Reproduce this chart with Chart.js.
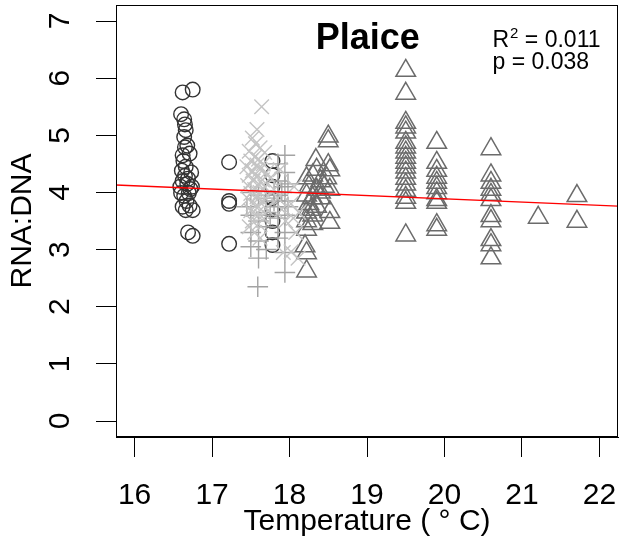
<!DOCTYPE html>
<html lang="en">
<head>
<meta charset="UTF-8">
<title>Plaice RNA:DNA vs temperature</title>
<script src="https://cdn.jsdelivr.net/npm/chart.js"></script>
<style>
    body { margin: 0; background: #fff; }
    #chart-container { width: 620px; height: 545px; }
</style>
</head>
<body>
<div id="chart-container">
    <canvas id="myChart"></canvas>
</div>
<script>
// circles (open, dark)
const circleTemp = [16.62, 16.75, 16.60, 16.64, 16.65, 16.66, 16.64, 16.65, 16.68, 16.71,
    16.62, 16.66, 16.61, 16.65, 16.62, 16.68, 16.72, 16.59, 16.74, 16.60,
    16.70, 16.64, 16.67, 16.62, 16.71, 16.75, 16.66, 16.69, 16.63, 16.73,
    16.69, 16.75, 17.22, 17.22, 17.22, 17.22,
    17.78, 17.78, 17.78, 17.78, 17.78, 17.78, 17.78, 17.78];
const circleRna = [5.75, 5.80, 5.37, 5.28, 5.19, 5.09, 4.97, 4.79, 4.82, 4.68,
    4.65, 4.45, 4.38, 4.29, 4.20, 4.15, 4.06, 4.10, 4.10, 3.99,
    3.99, 3.94, 3.85, 3.75, 3.77, 3.69, 3.69, 4.24, 4.55, 4.35,
    3.30, 3.24, 4.53, 3.85, 3.80, 3.10,
    4.55, 4.30, 4.10, 3.90, 3.70, 3.50, 3.30, 3.08];

// diagonal crosses (light grey)
const crossTemp = [17.64, 17.58, 17.52, 17.56, 17.62, 17.48, 17.68, 17.55, 17.60, 17.50,
    17.66, 17.58, 17.45, 17.62, 17.52, 17.70, 17.48, 17.57, 17.65, 17.53,
    17.60, 17.46, 17.68, 17.55, 17.62, 17.50, 17.72, 17.58, 17.47, 17.65,
    17.53, 17.60, 17.70, 17.50, 17.57, 17.64, 17.52, 17.60, 17.48, 17.55,
    17.62, 17.75, 17.80, 17.85, 17.90, 17.88, 17.95, 18.02, 18.05, 18.08,
    18.02, 18.11, 18.12, 18.06, 17.92];
const crossRna = [5.50, 5.10, 4.95, 4.85, 4.78, 4.72, 4.70, 4.62, 4.58, 4.55,
    4.50, 4.48, 4.45, 4.40, 4.38, 4.35, 4.30, 4.28, 4.22, 4.20,
    4.15, 4.12, 4.10, 4.05, 4.00, 3.98, 3.95, 3.92, 3.88, 3.85,
    3.80, 3.75, 3.72, 3.68, 3.62, 3.58, 3.50, 3.45, 3.40, 3.30,
    3.20, 4.25, 4.05, 3.90, 3.70, 4.40, 3.50, 3.80, 3.55, 3.30,
    2.96, 2.85, 3.65, 4.10, 2.95];

// plus signs (mid grey)
const plusTemp = [17.59, 17.94, 17.94, 17.94, 17.94, 17.94, 17.94, 17.94, 17.94, 17.85,
    17.85, 17.85, 17.85, 17.85, 17.85, 17.50, 17.50, 17.50, 17.50, 17.60,
    17.60, 17.60, 17.60, 17.70, 17.70, 17.70, 17.70, 17.45, 17.80, 17.80,
    17.75, 17.90, 17.98, 17.98];
const plusRna = [2.35, 4.65, 4.35, 4.10, 3.85, 3.60, 3.30, 2.95, 2.60, 4.50,
    4.20, 3.95, 3.75, 3.55, 3.20, 4.00, 3.60, 3.30, 3.05, 3.95,
    3.50, 3.15, 2.85, 3.90, 3.65, 3.40, 3.00, 3.75, 3.85, 4.00,
    3.60, 4.00, 3.75, 4.15];

// triangles (dark grey)
const triTemp = [18.50, 18.50, 18.34, 18.50, 18.52, 18.35, 18.22, 18.30, 18.40, 18.48,
    18.25, 18.35, 18.45, 18.52, 18.22, 18.30, 18.40, 18.25, 18.35, 18.22,
    18.30, 18.52, 18.22, 18.30, 18.52, 18.22, 18.20, 18.22, 18.22, 18.40, 18.28,
    19.50, 19.50, 19.50, 19.50, 19.50, 19.50, 19.50, 19.50, 19.50, 19.50,
    19.50, 19.50, 19.50, 19.50, 19.50, 19.50, 19.50, 19.50,
    19.90, 19.90, 19.90, 19.90, 19.90, 19.90, 19.90, 19.90, 19.90, 19.90, 19.90,
    20.60, 20.60, 20.60, 20.60, 20.60, 20.60, 20.60, 20.60, 20.60, 20.60, 20.60,
    21.21, 21.71, 21.71];
const triRna = [4.98, 4.90, 4.57, 4.48, 4.39, 4.40, 4.25, 4.30, 4.20, 4.25,
    4.10, 4.05, 4.10, 4.05, 3.95, 3.90, 3.90, 3.80, 3.75, 3.65,
    3.60, 3.66, 3.50, 3.45, 3.47, 3.35, 3.06, 2.94, 2.62, 4.00, 3.70,
    6.13, 5.73, 5.22, 5.14, 5.05, 4.87, 4.79, 4.70, 4.61, 4.52,
    4.44, 4.35, 4.24, 4.14, 4.03, 3.91, 3.82, 3.25,
    4.87, 4.52, 4.38, 4.26, 4.17, 4.08, 3.99, 3.87, 3.82, 3.43, 3.35,
    4.76, 4.30, 4.17, 4.05, 3.96, 3.87, 3.59, 3.50, 3.17, 3.08, 2.85,
    3.56, 3.94, 3.49];

// fitted regression line
const fitTemp = [15.76, 22.24];
const fitRna = [4.13, 3.76];

const xTicks = [16, 17, 18, 19, 20, 21, 22];
const yTicks = [0, 1, 2, 3, 4, 5, 6, 7];

const panelTitle = 'Plaice';
const r2Text = '0.011';
const pText = '0.038';

function pts(xs, ys) {
    return xs.map((x, i) => ({ x: x, y: ys[i] }));
}

const FONT = '"Liberation Sans", Arial, Helvetica, sans-serif';

const boxAndText = {
    id: 'boxAndText',
    afterDraw(chart) {
        const ctx = chart.ctx;
        const a = chart.chartArea;
        const xs = chart.scales.x;
        ctx.save();
        ctx.strokeStyle = '#000';
        ctx.lineWidth = 1;
        ctx.strokeRect(a.left + 0.5, a.top + 0.5, a.right - a.left - 1, a.bottom - a.top - 1);

        ctx.fillStyle = '#000';
        ctx.textBaseline = 'alphabetic';
        ctx.textAlign = 'center';
        ctx.font = 'bold 36px ' + FONT;
        ctx.fillText(panelTitle, xs.getPixelForValue(19.01), 49);

        ctx.textAlign = 'left';
        const lx = xs.getPixelForValue(20.62);
        ctx.font = '23px ' + FONT;
        ctx.fillText('R', lx, 47);
        let w = ctx.measureText('R').width;
        ctx.font = '15px ' + FONT;
        ctx.fillText('2', lx + w + 1, 38);
        w += ctx.measureText('2').width + 1;
        ctx.font = '23px ' + FONT;
        ctx.fillText(' = ' + r2Text, lx + w, 47);
        ctx.fillText('p = ' + pText, lx, 69);
        ctx.restore();
    }
};

const config = {
    type: 'scatter',
    data: {
        datasets: [
            {
                type: 'line',
                data: pts(fitTemp, fitRna),
                borderColor: '#ff0000',
                borderWidth: 1.3,
                pointRadius: 0,
                fill: false
            },
            {
                data: pts(crossTemp, crossRna),
                pointStyle: 'crossRot',
                pointRadius: 10.3,
                borderColor: '#c4c4c4',
                backgroundColor: 'rgba(0,0,0,0)',
                pointBorderWidth: 1.4
            },
            {
                data: pts(plusTemp, plusRna),
                pointStyle: 'cross',
                pointRadius: 10.3,
                borderColor: '#a3a3a3',
                backgroundColor: 'rgba(0,0,0,0)',
                pointBorderWidth: 1.4
            },
            {
                data: pts(triTemp, triRna),
                pointStyle: 'triangle',
                pointRadius: 11.3,
                borderColor: '#6b6b6b',
                backgroundColor: 'rgba(0,0,0,0)',
                pointBorderWidth: 1.5
            },
            {
                data: pts(circleTemp, circleRna),
                pointStyle: 'circle',
                pointRadius: 7.3,
                borderColor: '#333333',
                backgroundColor: 'rgba(0,0,0,0)',
                pointBorderWidth: 1.4
            }
        ]
    },
    options: {
        responsive: true,
        maintainAspectRatio: false,
        animation: false,
        events: [],
        layout: { autoPadding: false, padding: { top: 5, right: 2, left: 0, bottom: 0 } },
        plugins: {
            legend: { display: false },
            tooltip: { enabled: false }
        },
        scales: {
            x: {
                type: 'linear',
                min: 15.76,
                max: 22.24,
                afterFit: s => { s.height = 108; s.paddingLeft = 0; s.paddingRight = 0; },
                afterBuildTicks: s => { s.ticks = xTicks.map(v => ({ value: v })); },
                grid: { drawOnChartArea: false, drawTicks: true, tickLength: 20, color: '#000', lineWidth: 1 },
                border: { display: true, color: '#000', width: 1 },
                ticks: {
                    color: '#000',
                    padding: 21,
                    maxRotation: 0,
                    font: { family: FONT, size: 30 }
                },
                title: {
                    display: true,
                    text: 'Temperature ( ° C)',
                    color: '#000',
                    font: { family: FONT, size: 30 },
                    padding: { top: 0, bottom: 5 }
                }
            },
            y: {
                type: 'linear',
                min: -0.28,
                max: 7.28,
                afterFit: s => { s.width = 116; s.paddingTop = 0; s.paddingBottom = 0; },
                afterBuildTicks: s => { s.ticks = yTicks.map(v => ({ value: v })); },
                grid: { drawOnChartArea: false, drawTicks: true, tickLength: 20, color: '#000', lineWidth: 1 },
                border: { display: true, color: '#000', width: 1 },
                ticks: {
                    color: '#000',
                    padding: 27,
                    minRotation: 90,
                    maxRotation: 90,
                    crossAlign: 'center',
                    font: { family: FONT, size: 30 }
                },
                title: {
                    display: true,
                    text: 'RNA:DNA',
                    color: '#000',
                    font: { family: FONT, size: 30 },
                    padding: { top: 5, bottom: 0 }
                }
            }
        }
    },
    plugins: [boxAndText]
};

const ctx = document.getElementById('myChart').getContext('2d');
const myChart = new Chart(ctx, config);
</script>
</body>
</html>
